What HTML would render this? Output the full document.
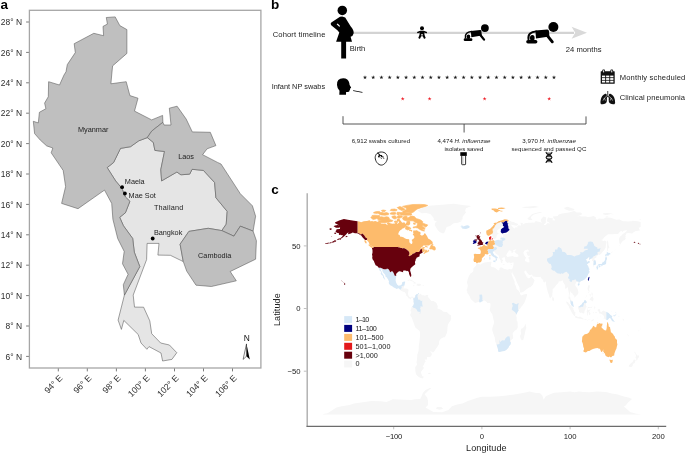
<!DOCTYPE html>
<html><head><meta charset="utf-8"><title>Figure</title>
<style>
html,body{margin:0;padding:0;background:#fff;}
body{width:685px;height:453px;overflow:hidden;font-family:"Liberation Sans",sans-serif;}
svg{display:block;font-family:"Liberation Sans",sans-serif;will-change:transform;opacity:0.999;}
.pl{font-weight:700;font-size:13.5px;fill:#000;}
</style></head>
<body>
<svg width="685" height="453" viewBox="0 0 685 453">
<rect width="685" height="453" fill="#fff"/>
<text class="pl" x="0.4" y="9.2">a</text>
<text class="pl" x="271" y="9.05">b</text>
<text class="pl" x="271.2" y="194.4">c</text>

<g id="pa">
<g stroke="#555" stroke-width="0.55" stroke-linejoin="round">
<path d="M147.3 137.6 153.3 142.4 154.9 150.4 164.5 151.5 160.8 169.6 161.6 180.9 176.9 172.0 180.9 174.8 189.7 174.1 192.1 169.3 203.4 170.4 214.6 182.5 215.9 197.7 227.2 211.4 226.2 224.2 221.8 230.6 208.2 228.3 188.9 231.4 180.1 244.2 183.3 261.6 170.4 255.3 157.9 255.1 159.0 243.4 147.1 243.4 146.6 259.6 133.2 295.1 134.5 307.1 143.6 307.2 149.8 320.9 151.7 333.7 160.7 343.0 169.4 345.0 176.8 352.7 171.9 359.4 162.6 361.0 161.0 353.0 149.0 346.6 146.9 349.3 141.0 343.0 138.2 334.5 123.8 320.4 121.4 329.4 118.1 320.1 124.4 295.1 139.8 266.6 134.3 252.2 132.7 238.5 123.4 225.7 119.7 217.3 125.4 212.8 129.9 201.3 125.4 197.0 121.8 188.2 115.7 181.0 107.2 167.6 113.6 162.5 120.5 148.4 130.5 146.7 138.8 140.8Z" fill="#e5e5e5"/>
<path d="M106.3 17.5 115.2 16.9 119.8 25.6 126.9 29.6 126.9 53.4 112.6 65.9 111.7 75.0 110.9 83.8 126.2 81.7 129.9 95.6 138.0 98.2 134.5 111.1 151.7 119.9 162.6 115.4 162.9 122.3 151.7 131.1 147.3 137.6 138.8 140.8 130.5 146.7 120.5 148.4 113.6 162.5 107.2 167.6 115.7 181.0 121.8 188.2 125.4 197.0 129.9 201.3 125.4 212.8 119.7 217.3 123.4 225.7 132.7 238.5 134.3 252.2 139.8 266.6 124.4 295.1 123.3 284.7 128.1 274.3 122.5 263.8 124.2 251.4 117.7 238.5 112.9 219.3 111.7 203.4 104.5 190.1 78.0 208.7 61.6 203.4 65.6 186.6 63.2 170.5 51.2 152.8 52.8 148.0 46.7 145.9 40.2 140.0 34.6 133.6 33.3 121.3 38.3 122.9 39.4 112.3 45.9 108.7 44.6 103.1 48.3 96.7 48.6 81.7 59.5 85.0 64.0 75.0 66.0 71.8 67.3 64.6 75.3 52.6 74.2 43.7 93.8 33.3 103.6 35.7 103.0 26.4 107.4 24.1Z" fill="#bfbfbf"/>
<path d="M162.9 122.3 164.0 125.0 171.0 125.0 169.3 108.2 177.1 106.2 186.2 119.1 192.3 131.9 210.3 132.3 215.9 145.6 207.1 148.8 202.6 154.7 217.5 162.4 221.0 164.0 240.3 193.7 252.4 205.8 255.6 216.2 253.1 231.1 240.3 226.2 233.9 236.2 221.8 230.6 226.2 224.2 227.2 211.4 215.9 197.7 214.6 182.5 203.4 170.4 192.1 169.3 189.7 174.1 180.9 174.8 176.9 172.0 161.6 180.9 160.8 169.6 164.5 151.5 154.9 150.4 153.3 142.4 147.3 137.6 151.7 131.1Z" fill="#bfbfbf"/>
<path d="M221.8 230.6 233.9 236.2 240.3 226.2 253.1 231.1 256.4 240.7 255.6 259.2 230.2 271.5 236.3 280.8 211.4 286.5 196.0 285.2 186.7 271.1 183.3 261.6 180.1 244.2 188.9 231.4 208.2 228.3Z" fill="#bfbfbf"/>
</g>
<rect x="29.4" y="10.3" width="231.5" height="357.7" fill="none" stroke="#a6a6a6" stroke-width="1.3"/>
<path d="M26.1 22.0H28.9M26.1 52.4H28.9M26.1 82.8H28.9M26.1 113.2H28.9M26.1 143.6H28.9M26.1 174.0H28.9M26.1 204.4H28.9M26.1 234.8H28.9M26.1 265.2H28.9M26.1 295.6H28.9M26.1 326.0H28.9M26.1 356.4H28.9M58.3 368.5V371.4M87.3 368.5V371.4M116.4 368.5V371.4M145.4 368.5V371.4M174.5 368.5V371.4M203.5 368.5V371.4M232.5 368.5V371.4" stroke="#5a5a5a" stroke-width="0.8" fill="none"/>
<g font-size="8.45" fill="#2e2e2e" text-anchor="end"><text x="22" y="25.1">28° N</text><text x="22" y="55.5">26° N</text><text x="22" y="85.9">24° N</text><text x="22" y="116.3">22° N</text><text x="22" y="146.7">20° N</text><text x="22" y="177.1">18° N</text><text x="22" y="207.5">16° N</text><text x="22" y="237.9">14° N</text><text x="22" y="268.3">12° N</text><text x="22" y="298.7">10° N</text><text x="22" y="329.1">8° N</text><text x="22" y="359.5">6° N</text><text font-size="8.8" transform="translate(63.2 378.7) rotate(-45)">94° E</text><text font-size="8.8" transform="translate(92.2 378.7) rotate(-45)">96° E</text><text font-size="8.8" transform="translate(121.3 378.7) rotate(-45)">98° E</text><text font-size="8.8" transform="translate(150.3 378.7) rotate(-45)">100° E</text><text font-size="8.8" transform="translate(179.4 378.7) rotate(-45)">102° E</text><text font-size="8.8" transform="translate(208.4 378.7) rotate(-45)">104° E</text><text font-size="8.8" transform="translate(237.4 378.7) rotate(-45)">106° E</text></g>
<g fill="#000"><circle cx="122.1" cy="187.2" r="1.9"/><circle cx="124.9" cy="193.5" r="1.9"/><circle cx="152.7" cy="238.5" r="1.9"/></g>
<g font-size="7.3" fill="#222">
<text x="78" y="132.2">Myanmar</text>
<text x="178.2" y="158.6">Laos</text>
<text x="124.8" y="184.3">Maela</text>
<text x="128.6" y="198">Mae Sot</text>
<text x="153.9" y="209.7" textLength="29.4">Thailand</text>
<text x="153.9" y="234.7">Bangkok</text>
<text x="198.1" y="257.8">Cambodia</text>
</g>
<text x="246.7" y="340.6" font-size="8.4" fill="#111" text-anchor="middle">N</text>
<path d="M246.5 343.9L249.8 359.6L246.4 356.3Z" fill="#000"/>
<path d="M246.5 343.9L243.1 359.4L246.4 356.3Z" fill="#fff" stroke="#000" stroke-width="0.5" stroke-linejoin="round"/>
</g>

<g id="pb">
<path d="M353 31.65H574V33.95H353Z" fill="#d3d3d3"/>
<path d="M571.6 26.7L587 32.65L571.6 38.8L575.2 32.75Z" fill="#d9d9d9"/>
<!-- pregnant woman -->
<g fill="#000">
<circle cx="342.3" cy="10.4" r="4.75"/>
<path d="M342.2 16.4 L345.2 17.6 L350.6 26.2 Q354.3 30.3 353.6 33.6 Q353 36.3 350.6 36.8 L352 41.7 L336.1 41.7 L339.3 32.5 L337.4 30.2 L331.2 25.3 Q330 23.9 331.3 22.6 L340 16.8 Z"/>
<path d="M341.2 41 H346.1 V58.5 H341.2Z"/>
</g>
<path d="M337.6 23.4 L339.9 25.8 L339.5 26.9 L336.6 24.3Z" fill="#fff"/>
<!-- small baby -->
<g fill="#000">
<circle cx="422" cy="28.2" r="2.0"/>
<rect x="419.6" y="30.9" width="4.8" height="5.3" rx="0.7"/>
<path d="M417.8 32.5 L420 31.6 H424 L426.3 32.5" fill="none" stroke="#000" stroke-width="1.5" stroke-linecap="round" stroke-linejoin="round"/>
<path d="M420.5 35.4 L419.4 37.7 M423.5 35.4 L424.6 37.7" fill="none" stroke="#000" stroke-width="2.0" stroke-linecap="round"/>
</g>
<rect x="421.25" y="34.0" width="1.5" height="1.6" fill="#dcdcdc"/>
<g fill="#000"><g transform="translate(484.9 28.1) scale(0.78) translate(-553.4 -27)">
<circle cx="553.4" cy="27" r="5.0"/>
<path d="M535.4 30.6 L547.3 29.4 Q548.9 29.4 549.0 31.2 L549.4 36.6 L536.0 38.6 Z"/>
<path d="M528.5 39.4 C527.7 33.9 531 32 536.2 31.4" fill="none" stroke="#000" stroke-width="1.95" stroke-linecap="round"/>
<ellipse cx="532.3" cy="38.1" rx="2.35" ry="3.0"/>
<rect x="526.2" y="40.1" width="11.2" height="3.5" rx="1.75"/>
<path d="M547.3 35.6 L552.3 41.8" fill="none" stroke="#000" stroke-width="2.9" stroke-linecap="round"/>
</g><g transform="translate(553.4 27.0) scale(1.0) translate(-553.4 -27)">
<circle cx="553.4" cy="27" r="5.0"/>
<path d="M535.4 30.6 L547.3 29.4 Q548.9 29.4 549.0 31.2 L549.4 36.6 L536.0 38.6 Z"/>
<path d="M528.5 39.4 C527.7 33.9 531 32 536.2 31.4" fill="none" stroke="#000" stroke-width="1.95" stroke-linecap="round"/>
<ellipse cx="532.3" cy="38.1" rx="2.35" ry="3.0"/>
<rect x="526.2" y="40.1" width="11.2" height="3.5" rx="1.75"/>
<path d="M547.3 35.6 L552.3 41.8" fill="none" stroke="#000" stroke-width="2.9" stroke-linecap="round"/>
</g></g>
<!-- infant head with swab -->
<g fill="#000">
<path d="M337 85 Q336.6 78.3 343.2 78.3 Q348.3 78.3 349.3 83 L349.6 85 L351.1 87.4 Q351.2 88 350.3 88.2 L350.1 89.3 Q350.2 90 349.6 90.3 Q349.7 91.9 348 92 L346.1 91.9 L346 94.8 L339.3 94.8 L339.5 90.8 Q337.2 88.6 337 85Z"/>
<path d="M353.2 90.2 L362.5 92 L362.4 92.7 L353.1 91.1Z"/>
</g>
<path d="M365.00 75.25 365.47 76.80 367.09 76.77 365.76 77.70 366.29 79.23 365.00 78.25 363.71 79.23 364.24 77.70 362.91 76.77 364.53 76.80ZM373.22 75.25 373.69 76.80 375.31 76.77 373.98 77.70 374.51 79.23 373.22 78.25 371.92 79.23 372.46 77.70 371.12 76.77 372.75 76.80ZM381.43 75.25 381.90 76.80 383.53 76.77 382.19 77.70 382.73 79.23 381.43 78.25 380.14 79.23 380.67 77.70 379.34 76.77 380.96 76.80ZM389.65 75.25 390.12 76.80 391.74 76.77 390.41 77.70 390.94 79.23 389.65 78.25 388.36 79.23 388.89 77.70 387.56 76.77 389.18 76.80ZM397.87 75.25 398.34 76.80 399.96 76.77 398.63 77.70 399.16 79.23 397.87 78.25 396.57 79.23 397.11 77.70 395.78 76.77 397.40 76.80ZM406.08 75.25 406.56 76.80 408.18 76.77 406.85 77.70 407.38 79.23 406.08 78.25 404.79 79.23 405.32 77.70 403.99 76.77 405.61 76.80ZM414.30 75.25 414.77 76.80 416.39 76.77 415.06 77.70 415.60 79.23 414.30 78.25 413.01 79.23 413.54 77.70 412.21 76.77 413.83 76.80ZM422.52 75.25 422.99 76.80 424.61 76.77 423.28 77.70 423.81 79.23 422.52 78.25 421.23 79.23 421.76 77.70 420.43 76.77 422.05 76.80ZM430.74 75.25 431.21 76.80 432.83 76.77 431.50 77.70 432.03 79.23 430.74 78.25 429.44 79.23 429.98 77.70 428.64 76.77 430.27 76.80ZM438.95 75.25 439.42 76.80 441.05 76.77 439.71 77.70 440.25 79.23 438.95 78.25 437.66 79.23 438.19 77.70 436.86 76.77 438.48 76.80ZM447.17 75.25 447.64 76.80 449.26 76.77 447.93 77.70 448.46 79.23 447.17 78.25 445.88 79.23 446.41 77.70 445.08 76.77 446.70 76.80ZM455.39 75.25 455.86 76.80 457.48 76.77 456.15 77.70 456.68 79.23 455.39 78.25 454.09 79.23 454.63 77.70 453.29 76.77 454.92 76.80ZM463.60 75.25 464.07 76.80 465.70 76.77 464.36 77.70 464.90 79.23 463.60 78.25 462.31 79.23 462.84 77.70 461.51 76.77 463.13 76.80ZM471.82 75.25 472.29 76.80 473.91 76.77 472.58 77.70 473.11 79.23 471.82 78.25 470.53 79.23 471.06 77.70 469.73 76.77 471.35 76.80ZM480.04 75.25 480.51 76.80 482.13 76.77 480.80 77.70 481.33 79.23 480.04 78.25 478.74 79.23 479.28 77.70 477.95 76.77 479.57 76.80ZM488.25 75.25 488.73 76.80 490.35 76.77 489.02 77.70 489.55 79.23 488.25 78.25 486.96 79.23 487.49 77.70 486.16 76.77 487.78 76.80ZM496.47 75.25 496.94 76.80 498.56 76.77 497.23 77.70 497.77 79.23 496.47 78.25 495.18 79.23 495.71 77.70 494.38 76.77 496.00 76.80ZM504.69 75.25 505.16 76.80 506.78 76.77 505.45 77.70 505.98 79.23 504.69 78.25 503.40 79.23 503.93 77.70 502.60 76.77 504.22 76.80ZM512.91 75.25 513.38 76.80 515.00 76.77 513.67 77.70 514.20 79.23 512.91 78.25 511.61 79.23 512.15 77.70 510.81 76.77 512.44 76.80ZM521.12 75.25 521.59 76.80 523.22 76.77 521.88 77.70 522.42 79.23 521.12 78.25 519.83 79.23 520.36 77.70 519.03 76.77 520.65 76.80ZM529.34 75.25 529.81 76.80 531.43 76.77 530.10 77.70 530.63 79.23 529.34 78.25 528.05 79.23 528.58 77.70 527.25 76.77 528.87 76.80ZM537.56 75.25 538.03 76.80 539.65 76.77 538.32 77.70 538.85 79.23 537.56 78.25 536.26 79.23 536.80 77.70 535.46 76.77 537.09 76.80ZM545.77 75.25 546.24 76.80 547.87 76.77 546.53 77.70 547.07 79.23 545.77 78.25 544.48 79.23 545.01 77.70 543.68 76.77 545.30 76.80ZM553.99 75.25 554.46 76.80 556.08 76.77 554.75 77.70 555.28 79.23 553.99 78.25 552.70 79.23 553.23 77.70 551.90 76.77 553.52 76.80Z" fill="#1a1a1a"/>
<path d="M402.70 96.70 403.16 98.17 404.70 98.15 403.44 99.04 403.93 100.50 402.70 99.58 401.47 100.50 401.96 99.04 400.70 98.15 402.24 98.17ZM429.60 96.70 430.06 98.17 431.60 98.15 430.34 99.04 430.83 100.50 429.60 99.58 428.37 100.50 428.86 99.04 427.60 98.15 429.14 98.17ZM484.60 96.70 485.06 98.17 486.60 98.15 485.34 99.04 485.83 100.50 484.60 99.58 483.37 100.50 483.86 99.04 482.60 98.15 484.14 98.17ZM549.20 96.70 549.66 98.17 551.20 98.15 549.94 99.04 550.43 100.50 549.20 99.58 547.97 100.50 548.46 99.04 547.20 98.15 548.74 98.17Z" fill="#ee1c25"/>
<path d="M343 116.2V124H586V116.4M464.1 124V132.5" fill="none" stroke="#444" stroke-width="0.9"/>
<g font-size="7.6" fill="#222">
<text x="272.7" y="36.65" textLength="52.7">Cohort timeline</text>
<text x="271.7" y="89.2" textLength="53.4" lengthAdjust="spacingAndGlyphs">Infant NP swabs</text>
<text x="349.7" y="51.4">Birth</text>
<text x="565.7" y="51.5" textLength="35.9">24 months</text>
<text x="619.7" y="79.7" textLength="65.6">Monthly scheduled</text>
<text x="619.7" y="99.7" textLength="65.3">Clinical pneumonia</text>
</g>
<g font-size="6.15" fill="#222" text-anchor="middle">
<text x="380.9" y="142.8" textLength="58.5">6,912 swabs cultured</text>
<text x="463.9" y="142.9" textLength="52.9">4,474 <tspan font-style="italic">H. influenzae</tspan></text>
<text x="463.9" y="150.6" textLength="38.9">isolates saved</text>
<text x="549.1" y="142.9" textLength="53.6">3,970 <tspan font-style="italic">H. influenzae</tspan></text>
<text x="548.9" y="150.6" textLength="74.9">sequenced and passed QC</text>
</g>
<!-- calendar -->
<g fill="#111">
<rect x="600.7" y="71.2" width="14" height="12.6" rx="0.5"/>
<rect x="602.3" y="69.5" width="2.7" height="3.2" rx="0.9"/><rect x="610.4" y="69.5" width="2.7" height="3.2" rx="0.9"/>
</g>
<g fill="#fff">
<rect x="603.15" y="70.3" width="1.0" height="2.1"/><rect x="611.25" y="70.3" width="1.0" height="2.1"/>
<rect x="602" y="75.6" width="3.2" height="1.7"/><rect x="606.1" y="75.6" width="3.2" height="1.7"/><rect x="610.2" y="75.6" width="3.2" height="1.7"/>
<rect x="602" y="78.1" width="3.2" height="1.8"/><rect x="606.1" y="78.1" width="3.2" height="1.8"/><rect x="610.2" y="78.1" width="3.2" height="1.8"/>
<rect x="602" y="80.7" width="3.2" height="1.8"/><rect x="606.1" y="80.7" width="3.2" height="1.8"/><rect x="610.2" y="80.7" width="3.2" height="1.8"/>
</g>
<!-- lungs -->
<g fill="#111">
<path d="M606.8 95.6 Q607 93.3 605.2 93.8 Q601.6 95.4 600.7 100 Q600 103.5 601.2 104.2 Q603.4 104.8 605.8 103.3 Q607 102.4 606.9 100.2 Z"/>
<path d="M608.8 95.6 Q608.6 93.3 610.4 93.8 Q614 95.4 614.9 100 Q615.6 103.5 614.4 104.2 Q612.2 104.8 609.8 103.3 Q608.6 102.4 608.7 100.2 Z"/>
<path d="M607.4 91 H608.2 V96 L610.6 98.2 L610.1 98.8 L607.8 96.8 L605.5 98.8 L605 98.2 L607.4 96Z"/>
</g>
<path d="M606.5 96.4L604.4 98L603 100.6M604.4 98L605.4 100.6M609.1 96.4L611.2 98L612.6 100.6M611.2 98L610.2 100.6" stroke="#fff" stroke-width="0.55" fill="none"/>
<!-- petri dish -->
<path d="M381.3 152 C385.6 152 387.4 155 387.4 157.6 C387.4 161.2 384.5 165.1 381.3 165.1 C378.1 165.1 375.2 161.2 375.2 157.6 C375.2 155 377 152 381.3 152Z" fill="none" stroke="#111" stroke-width="0.9"/>
<path d="M377.7 153.3 L379.7 154.6 L379.3 155.5 L381.7 155.5 L381.3 156.5 L383.3 157" stroke="#111" stroke-width="1.05" stroke-linecap="round" stroke-linejoin="round" fill="none"/>
<circle cx="378.9" cy="156.5" r="0.95" fill="#111"/>
<circle cx="381.3" cy="158.3" r="0.5" fill="#111"/><circle cx="383.8" cy="158.3" r="0.5" fill="#111"/><circle cx="380.2" cy="157.6" r="0.4" fill="#111"/>
<!-- tube -->
<path d="M460.3 152.2H466.8V155.9H460.3Z" fill="#000"/>
<path d="M461.7 155.9V164.1Q461.7 164.7 462.3 164.7H465Q465.6 164.7 465.6 164.1V155.9" fill="#fff" stroke="#111" stroke-width="0.85"/>
<path d="M463 156.5V163.8" stroke="#777" stroke-width="0.4" fill="none"/>
<!-- dna -->
<g fill="none" stroke="#111" stroke-width="1.15" stroke-linecap="round">
<path d="M546.1 152.4 C546.1 155 551.9 154.8 551.9 157.4 C551.9 160 546.1 159.8 546.1 162.4"/>
<path d="M551.9 152.4 C551.9 155 546.1 154.8 546.1 157.4 C546.1 160 551.9 159.8 551.9 162.4"/>
<path d="M546.8 153.1H551.2M547.4 154.2H550.6M547 156.5H551M547 158.3H551M547.4 160.6H550.6M546.8 161.7H551.2" stroke-width="0.7"/>
</g>
</g>

<g id="pc">
<path d="M417.5 210.5 421.9 208.3 429.0 205.8 442.2 204.8 453.7 203.7 462.5 205.1 471.3 206.1 466.0 208.3 465.1 210.8 466.0 212.6 464.3 214.5 462.5 217.0 462.5 219.5 459.8 220.2 462.5 220.8 458.1 222.7 453.7 223.2 450.1 225.9 446.6 227.1 445.7 229.6 444.0 233.2 442.2 233.3 439.6 232.1 437.8 230.2 436.5 228.1 434.7 225.2 435.2 222.7 436.9 221.4 433.8 220.2 433.8 218.3 432.5 216.4 430.3 213.9 426.3 213.0 421.5 213.3 419.3 211.8ZM400.5 290.3 401.6 291.1 403.0 291.7 404.5 292.0 404.7 292.2 405.2 292.8 406.0 294.1 406.3 294.8 406.2 296.0 407.1 296.2 408.1 297.2 408.4 298.0 408.8 298.5 409.8 298.5 410.6 299.4 411.3 299.1 411.1 298.2 411.8 297.2 412.8 298.0 413.1 299.1 413.2 299.5 413.7 297.7 412.7 296.7 411.7 296.5 410.5 297.5 409.4 297.0 408.7 296.0 408.1 294.8 408.1 292.8 408.3 291.6 408.5 289.7 407.4 288.7 406.0 288.5 404.5 288.6 403.5 288.6 404.1 286.6 404.2 285.3 404.0 285.3 403.3 286.2 401.6 286.2 401.6 286.9 402.1 288.3 401.0 288.4 400.6 289.4ZM413.7 297.7 414.1 298.5 415.2 296.7 415.3 295.5 415.9 294.7 416.5 294.3 417.5 294.2 418.7 292.9 419.2 293.3 419.0 293.7 418.5 294.6 418.7 295.1 419.3 294.7 420.2 293.2 420.4 294.1 421.7 294.8 421.9 295.3 423.7 295.2 425.0 295.7 426.3 295.1 427.3 295.1 428.1 297.2 429.0 298.0 430.3 299.7 431.4 301.0 433.4 301.1 435.6 302.2 436.4 303.1 437.8 306.2 437.4 308.5 439.2 309.1 439.7 309.3 442.2 310.4 442.8 311.6 445.3 312.1 446.6 312.1 447.9 313.1 449.3 314.6 450.8 315.0 451.2 318.5 450.6 320.4 449.3 322.3 447.9 324.8 447.5 327.3 447.3 330.7 446.8 333.2 446.4 333.9 444.9 337.3 443.8 337.3 441.1 338.6 439.6 340.2 439.0 341.7 439.1 343.1 438.9 344.3 437.8 346.1 437.2 347.3 435.9 348.8 434.8 350.7 433.5 352.3 432.3 352.2 430.7 351.1 430.4 351.9 431.4 352.7 431.9 354.0 431.2 356.1 429.9 357.0 427.0 357.1 427.0 359.4 424.6 359.6 425.8 361.8 424.6 362.4 424.0 364.9 422.4 366.1 423.8 367.5 423.8 368.3 422.2 370.3 421.0 371.8 421.0 373.2 421.6 374.1 421.7 374.8 422.4 376.2 424.4 377.0 423.2 377.4 422.5 378.6 421.0 378.0 419.3 377.2 418.4 376.7 416.6 374.9 416.0 373.9 415.5 371.8 415.3 369.3 415.2 367.1 416.5 365.5 417.1 364.3 416.5 362.6 416.8 360.9 417.1 358.6 417.2 357.4 417.3 354.6 418.0 353.0 418.7 349.8 418.8 346.1 419.0 344.2 419.4 342.3 419.8 338.1 420.1 334.8 419.9 331.6 418.8 330.3 417.5 329.2 415.6 327.7 414.7 325.9 413.9 323.5 413.1 321.4 412.2 318.8 411.4 317.1 410.4 316.0 410.2 314.4 411.1 312.8 411.4 311.8 410.5 311.3 410.7 309.8 411.3 308.5 411.3 307.5 411.7 307.2 412.4 306.6 412.4 306.2 413.4 305.2 413.9 303.6 413.5 301.6 413.6 300.1 413.2 299.5ZM427.9 373.3 429.9 372.8 430.9 373.2 429.9 374.0 428.5 373.9ZM476.7 263.6 479.3 264.3 481.0 264.5 481.4 263.8 484.5 262.4 488.1 262.1 490.5 261.8 491.6 262.0 491.2 263.4 490.7 265.9 491.7 266.9 493.5 267.3 495.3 267.9 497.8 270.3 498.7 270.5 499.5 269.7 499.5 268.3 500.9 267.3 502.3 267.7 504.1 269.0 505.9 269.2 507.5 269.8 508.3 269.4 509.2 268.9 510.4 269.3 512.1 269.3 512.7 271.5 512.2 273.4 512.1 273.7 511.2 272.8 510.6 271.0 510.7 272.2 511.5 273.7 511.7 274.4 512.7 277.2 513.2 278.4 514.4 280.9 514.7 282.2 514.7 283.9 515.9 285.9 516.6 289.0 518.2 290.3 519.3 292.0 520.0 292.7 519.9 294.0 521.6 295.5 523.4 294.6 525.1 294.3 527.1 293.7 527.0 295.5 526.0 298.5 525.1 301.0 524.2 302.9 522.5 305.5 521.9 306.0 520.3 308.5 519.4 309.0 518.6 310.6 518.0 311.4 517.3 312.5 516.9 313.6 516.5 314.4 516.1 316.0 516.6 317.0 516.7 318.5 516.7 320.4 517.5 321.7 517.7 324.2 517.7 326.7 517.8 327.3 517.0 329.2 515.4 330.2 514.4 330.9 512.6 333.4 513.0 335.4 513.2 338.3 511.0 340.2 510.7 341.0 510.9 342.2 510.7 344.2 509.2 345.9 508.4 347.7 506.5 349.8 504.5 351.1 502.2 351.2 499.5 352.1 498.1 351.5 498.0 349.8 497.8 348.6 497.2 346.7 496.5 344.3 495.3 341.8 494.7 337.3 493.7 334.7 492.5 331.1 492.3 330.1 492.3 328.5 492.7 326.7 493.7 324.3 494.1 322.3 493.5 319.5 492.7 316.1 492.4 314.5 491.7 313.4 490.4 311.5 489.7 309.4 490.2 308.0 490.4 306.0 490.5 304.7 490.5 303.5 489.4 302.9 488.1 303.0 487.2 303.1 486.7 302.0 484.9 300.5 483.3 300.7 481.7 301.5 480.0 302.5 479.2 302.1 478.4 301.9 476.6 302.5 475.1 303.0 472.4 300.6 470.9 299.2 470.3 297.8 469.8 296.6 468.7 294.8 468.1 293.7 467.2 293.0 467.3 291.6 466.5 290.1 467.3 288.5 467.8 285.8 467.5 284.2 466.9 282.4 467.6 279.7 467.9 278.8 469.1 275.8 470.5 273.5 472.1 272.4 472.9 271.7 473.4 270.4 473.3 269.0 473.7 268.0 475.2 266.4 475.9 265.8ZM525.4 323.5 526.4 327.9 525.6 329.8 524.7 334.2 523.4 339.8 521.8 340.6 520.4 337.9 520.1 336.1 521.1 333.6 520.7 331.1 521.1 328.8 522.7 328.2 524.1 326.8 524.9 325.2ZM474.0 262.1 473.5 260.0 474.2 256.9 473.7 254.6 474.8 253.7 476.8 253.9 478.5 254.0 480.3 254.1 480.8 252.5 480.8 250.9 480.0 249.5 478.0 248.6 477.7 247.9 479.3 247.4 480.1 247.6 480.5 246.2 481.7 246.7 482.0 246.5 483.2 245.6 483.5 244.7 484.1 244.5 484.9 244.1 485.4 243.3 486.0 242.1 488.1 241.5 489.4 241.3 489.7 240.8 489.5 239.7 489.0 239.0 489.0 237.6 489.5 237.0 491.2 236.1 491.2 237.7 491.5 237.8 491.0 238.5 490.6 239.3 490.2 239.8 490.7 240.2 491.6 240.8 492.9 240.3 493.8 240.2 494.4 241.0 496.5 240.2 498.2 239.8 499.1 240.3 499.5 239.7 500.4 239.2 500.4 237.3 500.9 236.5 501.8 236.2 502.4 237.1 503.1 237.1 503.4 235.5 502.6 234.9 502.6 234.3 503.8 233.9 506.6 233.9 508.5 233.4 507.2 232.6 505.7 232.7 503.9 233.1 502.2 233.6 501.3 232.8 500.7 232.1 500.9 230.2 500.9 229.4 502.2 228.3 504.3 227.1 503.2 226.1 501.5 226.3 500.7 227.6 499.8 228.6 498.2 229.6 497.2 230.3 497.1 232.4 498.2 233.1 498.7 233.6 496.9 235.1 496.6 236.1 496.4 237.5 495.8 238.2 494.5 239.0 493.4 239.1 493.1 238.3 492.4 236.2 491.8 234.6 491.3 233.4 491.2 234.3 490.3 234.7 489.0 235.7 488.1 235.8 486.8 234.7 486.3 232.8 486.3 231.1 486.5 230.6 487.4 230.2 488.7 229.4 490.3 228.7 490.7 228.3 492.0 227.1 492.5 226.4 493.4 225.2 494.6 224.2 493.4 223.3 495.1 222.7 496.5 222.7 498.6 221.2 500.4 220.8 502.2 220.2 504.7 219.3 506.6 219.5 509.2 220.3 507.5 221.0 508.4 221.2 510.6 221.0 511.4 221.7 513.7 222.0 515.4 222.9 517.6 223.7 518.2 224.8 516.7 225.7 512.8 225.1 510.7 224.4 512.5 226.8 512.6 227.1 514.1 228.3 515.0 228.4 515.4 227.3 517.6 227.6 517.2 226.3 518.9 225.3 520.7 225.8 521.1 224.5 520.4 222.7 522.5 222.9 522.9 223.5 522.5 224.8 525.1 223.3 528.6 222.7 530.4 222.7 532.6 222.4 533.9 222.8 535.3 222.0 535.3 221.0 538.3 221.7 540.6 222.3 542.3 222.9 541.0 221.4 540.8 220.2 541.2 218.9 542.3 217.7 543.6 216.5 545.8 217.3 546.1 218.9 545.7 220.8 546.0 222.3 545.0 223.5 543.6 224.8 545.0 225.2 546.3 224.5 547.2 223.3 548.9 223.3 550.3 223.7 548.9 222.3 547.6 222.0 547.0 220.8 547.4 218.9 548.0 217.3 550.3 218.0 552.9 218.3 552.5 220.2 555.1 220.5 554.8 219.5 553.3 217.9 553.0 216.4 557.8 215.9 558.6 214.5 562.2 213.6 565.7 213.1 569.2 212.6 573.9 211.1 575.4 211.5 576.7 212.5 580.7 212.5 582.0 213.4 581.6 214.8 578.9 215.8 576.3 216.8 579.4 216.0 582.0 216.4 586.0 216.4 587.7 217.0 590.8 216.8 593.5 216.0 595.9 217.2 595.7 218.5 597.0 219.7 598.8 218.5 601.9 218.8 603.6 218.8 605.4 217.7 606.0 217.2 608.0 217.4 610.7 217.8 614.2 218.9 616.4 219.7 619.5 219.5 623.0 221.2 625.2 221.3 628.3 221.4 630.3 221.3 632.1 221.2 632.3 220.7 634.5 221.0 637.1 221.2 638.9 221.5 640.7 222.2 640.7 227.1 639.3 227.6 638.5 227.4 640.0 230.4 635.8 231.1 633.6 232.2 632.1 233.4 628.3 233.1 626.1 233.4 625.9 235.2 624.8 236.1 625.8 236.1 625.2 238.1 625.9 238.2 624.9 239.9 623.0 240.8 621.9 242.1 620.1 244.7 619.5 243.3 619.1 240.8 619.1 238.3 620.1 236.5 621.3 235.8 622.8 233.9 624.7 232.8 626.3 231.4 627.1 230.2 625.7 230.2 623.0 231.1 623.2 232.6 621.7 231.1 620.0 231.4 618.6 233.3 618.2 233.9 614.9 233.9 612.4 234.2 609.8 234.2 608.0 234.2 605.8 236.1 603.8 237.7 602.7 239.6 601.1 240.0 603.0 240.8 603.2 241.3 604.9 240.6 606.5 241.8 606.3 243.1 605.9 244.6 605.8 245.9 605.6 247.7 604.1 250.2 601.9 252.7 601.0 254.0 599.2 255.0 598.3 254.5 597.2 255.5 596.3 256.5 596.4 257.4 594.4 258.6 594.4 259.4 595.1 260.1 596.0 262.1 596.1 263.4 595.8 264.5 593.5 265.5 593.4 264.0 593.6 262.4 593.6 261.5 592.0 260.8 592.3 259.0 591.5 258.5 590.4 258.9 588.9 259.9 589.1 258.4 589.7 257.6 588.6 257.3 587.4 258.5 586.0 259.4 585.7 259.6 586.8 260.8 587.0 261.1 586.9 261.9 588.0 261.4 588.4 261.1 589.9 261.6 589.9 262.3 588.0 263.4 587.0 264.6 587.1 265.0 588.0 265.5 588.5 267.2 589.3 268.8 589.4 269.8 588.6 270.2 589.5 271.0 589.2 273.0 588.5 273.5 587.4 275.9 586.7 277.2 586.1 277.8 584.8 279.3 583.2 280.2 582.6 280.6 582.0 280.8 580.4 281.4 579.4 281.9 579.3 283.1 578.7 282.9 578.7 281.7 578.1 281.6 577.2 281.6 576.1 282.6 575.1 284.7 575.1 285.1 575.8 286.3 576.8 287.8 577.3 288.3 578.0 290.3 578.2 291.2 578.4 292.3 578.2 293.6 577.2 295.1 576.4 295.5 575.9 296.2 574.8 297.6 574.3 297.7 574.3 296.2 574.6 296.0 574.1 295.5 573.2 295.2 572.7 294.3 572.7 293.8 572.1 293.2 571.0 292.6 570.9 291.7 570.5 291.6 570.1 291.8 570.1 292.7 569.4 295.3 569.5 297.0 570.0 296.8 570.4 298.0 570.6 299.5 571.7 300.4 572.0 300.7 572.1 300.7 573.1 302.5 573.1 303.7 573.5 305.4 573.9 306.7 573.1 306.7 572.0 305.7 571.2 304.9 570.7 303.5 570.5 301.7 570.2 300.5 569.8 299.9 569.2 298.7 568.6 298.7 568.6 298.2 568.5 297.2 568.9 296.0 568.8 294.7 569.0 293.5 568.4 291.0 568.2 289.5 568.0 287.8 567.3 287.3 566.8 287.8 566.0 288.7 565.3 288.6 565.0 288.5 565.2 286.6 565.2 285.3 563.8 283.3 563.3 282.6 563.0 281.7 562.9 280.6 562.0 280.6 561.5 281.1 560.5 281.3 559.7 281.3 558.6 281.6 558.5 282.6 558.4 283.1 557.6 283.7 556.8 284.6 555.4 286.3 554.5 287.6 553.5 288.5 552.6 289.3 552.7 292.1 552.3 293.6 552.3 295.6 551.6 296.8 550.9 297.5 550.3 298.4 549.7 297.8 549.1 296.0 548.8 294.4 547.9 292.3 547.0 289.1 546.6 287.2 546.1 284.7 546.0 282.2 545.9 280.6 545.5 281.9 544.5 282.6 544.0 282.3 542.8 280.7 543.8 279.8 542.7 279.7 542.2 278.9 541.4 278.6 540.9 277.4 540.6 276.7 539.0 276.9 537.9 276.9 536.8 277.0 536.2 276.9 535.3 276.8 532.9 276.4 532.2 275.0 531.6 274.5 530.1 275.3 529.1 275.0 528.2 274.0 526.7 272.3 526.2 270.9 525.1 270.4 524.8 271.0 524.2 271.7 524.6 272.8 524.9 273.8 526.0 275.0 526.2 275.4 526.5 276.5 526.7 277.4 527.1 275.7 527.4 277.2 527.4 278.1 528.3 278.2 529.9 277.9 530.7 276.8 531.4 275.9 531.6 275.5 531.6 277.0 533.6 278.9 534.6 280.3 533.6 282.9 532.9 284.7 531.6 285.9 530.4 287.2 529.5 287.2 527.9 288.2 525.2 290.3 523.4 291.7 521.6 292.5 520.3 292.6 520.0 291.8 519.7 290.0 519.5 288.0 519.4 287.3 518.1 284.7 516.5 281.6 515.4 278.3 514.0 275.7 512.8 273.4 512.8 271.5 512.1 269.3 512.5 268.3 512.8 267.4 513.2 266.0 513.5 265.3 513.4 264.0 513.8 262.6 512.4 262.4 510.8 263.3 509.0 262.3 507.6 262.9 506.9 262.4 506.1 262.1 505.1 260.5 505.4 259.3 504.9 259.0 505.2 258.2 504.8 257.5 504.7 257.3 503.4 257.3 503.1 258.4 502.8 258.5 502.1 257.6 501.8 258.4 502.2 259.3 503.1 260.6 503.1 261.3 502.8 261.0 502.2 261.0 502.4 261.8 502.4 262.8 501.7 262.9 501.0 262.4 500.7 261.3 501.0 260.6 500.5 260.5 500.2 259.8 499.7 259.0 499.5 258.5 499.0 257.9 499.1 256.8 499.0 256.0 498.7 255.7 497.9 255.1 496.4 254.0 495.3 253.2 495.0 252.1 494.6 251.7 494.2 252.4 494.1 251.3 492.7 251.6 492.9 252.2 493.0 253.2 493.8 253.9 494.4 255.2 496.2 256.0 496.8 257.0 497.8 257.6 498.2 258.2 498.1 258.6 497.1 257.8 496.5 258.8 497.1 259.5 496.5 260.4 496.1 261.0 495.7 260.8 495.8 259.6 495.7 258.3 495.0 257.6 494.5 257.3 493.9 256.9 493.0 256.6 492.7 256.2 492.3 255.7 491.7 255.4 491.2 254.7 491.0 253.9 490.5 253.2 489.7 252.9 489.0 253.5 488.5 253.6 488.3 253.7 487.8 254.3 487.1 254.5 486.6 254.2 486.1 254.2 485.2 254.1 484.6 255.0 484.7 255.4 484.8 255.5 483.8 256.6 483.0 257.0 482.7 257.5 481.9 258.4 481.6 259.1 482.1 259.9 481.5 260.4 481.3 261.4 480.0 262.5 478.0 262.5 477.2 263.2 477.0 263.4 476.3 262.8 475.7 261.9 474.9 262.1ZM527.3 218.7 529.1 219.9 532.4 220.0 530.9 217.7 531.3 216.4 533.9 214.5 538.3 213.3 542.6 212.3 540.1 212.0 535.7 212.9 532.2 214.1 530.4 215.8 529.1 217.0ZM565.7 209.4 569.2 210.8 573.6 210.4 574.5 209.1 571.9 208.3 567.5 206.8 563.9 208.0ZM639.3 219.5 640.7 219.8 640.7 218.9 639.8 218.9ZM607.8 240.3 608.3 242.7 608.5 245.2 609.5 247.5 607.8 249.0 608.4 250.5 607.1 250.9 607.1 249.0 607.1 247.1 606.9 244.0 607.0 241.7ZM552.2 298.2 552.5 296.2 553.5 297.7 554.1 299.1 554.0 300.4 553.0 301.1 552.3 300.0ZM578.6 306.0 579.2 306.5 580.2 305.5 581.6 304.5 582.4 303.0 583.0 302.4 583.6 302.2 584.2 301.0 584.9 299.7 585.7 300.5 586.1 301.2 587.0 302.0 585.9 303.2 585.6 304.1 586.0 305.7 586.9 307.2 585.8 307.5 585.5 309.4 584.9 310.1 584.5 311.3 584.4 312.3 584.2 313.3 583.0 313.6 581.6 312.5 580.5 312.9 579.1 312.1 578.9 310.1 578.2 308.6 578.0 307.5 577.9 306.9ZM566.0 301.5 567.9 302.0 569.0 303.7 570.4 305.0 571.4 306.2 572.7 307.5 573.5 308.5 573.1 309.5 574.0 309.8 574.2 311.4 575.4 312.3 575.3 313.5 575.2 315.8 574.2 315.9 573.9 315.4 572.1 313.3 570.4 309.7 569.3 308.1 569.0 306.4 567.6 304.7 566.7 303.4ZM574.7 317.0 575.5 315.9 577.4 316.4 577.7 316.9 579.3 317.1 579.7 316.5 581.2 317.1 581.4 317.5 582.8 318.1 582.9 319.4 581.6 318.9 578.9 318.4 577.2 318.3 575.7 317.8ZM587.6 307.5 588.5 306.9 590.4 307.4 592.1 306.4 592.3 306.7 591.5 308.0 590.7 308.1 588.2 307.9 587.7 309.6 588.6 310.3 589.9 309.5 590.7 309.6 589.5 310.9 589.1 311.0 589.9 312.6 590.4 313.5 590.2 314.3 589.9 315.3 589.1 314.4 588.6 312.3 588.5 311.9 588.0 312.3 588.1 315.4 587.3 315.4 587.3 312.9 586.7 312.0 587.1 310.1 587.6 308.8ZM597.4 310.1 598.8 309.0 600.1 309.5 600.3 311.5 601.0 312.6 602.3 311.3 603.4 310.4 605.2 311.4 606.3 311.8 606.3 319.9 604.5 318.6 603.4 319.0 604.3 317.5 603.6 315.4 601.9 314.3 600.5 313.5 599.2 313.5 599.0 312.0 598.3 311.3ZM323.1 414.1 327.5 413.3 331.1 411.0 336.4 407.6 341.7 406.2 349.6 405.0 354.0 403.5 362.8 402.2 371.6 401.1 380.5 401.2 386.6 402.0 392.8 399.2 398.1 399.5 404.3 399.7 411.3 400.0 414.9 399.3 420.2 399.0 421.9 395.6 422.8 393.1 425.5 389.9 429.9 388.1 431.6 387.8 429.0 389.9 427.2 391.8 424.6 394.3 427.2 397.5 428.1 401.2 428.1 405.0 425.5 407.5 428.1 409.0 433.4 411.9 442.2 412.2 448.4 410.0 451.9 406.2 457.2 404.4 462.5 403.6 467.8 401.0 473.1 399.3 477.5 397.7 481.9 396.8 490.7 396.7 499.5 396.2 506.6 395.5 512.8 394.7 517.2 394.1 524.2 392.7 529.5 391.4 534.8 392.7 540.1 393.2 542.3 395.6 543.6 399.7 545.8 396.2 548.9 394.7 554.2 392.7 561.3 392.2 570.1 391.6 574.5 392.2 578.9 391.6 583.3 391.9 589.5 392.2 596.6 391.6 601.9 391.8 607.1 392.3 611.6 393.5 616.8 394.3 623.9 396.6 629.2 397.7 632.0 399.1 628.3 402.2 625.7 405.4 623.9 406.6 626.5 408.7 630.1 411.9 636.2 413.8 640.7 414.3 640.7 414.4 614.2 414.5 570.1 414.4 526.0 414.5 481.9 414.4 437.8 414.5 393.7 414.4 349.6 414.5 323.1 414.5ZM436.9 406.9 441.3 407.0 443.1 408.7 439.6 409.7 436.0 408.7ZM502.6 264.0 503.9 264.1 505.1 264.4 503.8 264.7 502.7 264.3ZM510.4 264.6 511.0 264.3 512.4 263.8 511.9 264.6 511.0 265.1ZM407.0 281.1 408.7 279.7 410.0 279.5 411.8 280.1 413.5 281.3 415.1 282.2 416.5 283.2 415.8 283.6 413.4 283.6 413.9 282.8 412.7 281.6 410.9 280.9 409.6 280.3 408.3 280.7ZM416.3 285.2 417.2 283.7 418.7 283.7 420.2 283.8 421.6 285.2 420.2 285.6 418.8 286.3 418.0 285.7ZM412.8 285.4 414.0 285.3 414.7 285.9 413.5 286.2ZM422.6 285.3 424.0 285.4 423.9 285.9 422.6 285.9ZM427.3 295.0 428.2 295.0 428.1 295.8 427.3 295.8ZM412.3 275.0 413.5 274.8 414.0 275.5 412.9 275.4ZM412.8 277.2 413.4 277.0 413.5 278.6 412.9 278.1ZM602.7 214.0 605.4 214.9 608.0 214.7 610.7 214.1 614.2 214.4 611.6 213.4 607.1 213.1 603.6 213.3ZM605.4 216.5 608.0 216.8 608.5 216.3 606.3 215.9ZM521.6 207.5 526.0 208.0 530.4 208.3 534.8 207.8 539.2 207.0 534.8 206.1 528.6 206.6 523.4 207.0ZM610.2 253.4 611.6 252.1 613.1 251.5 612.0 252.5ZM614.2 250.6 616.0 249.2 615.1 250.2ZM618.9 245.6 619.7 244.8 619.3 245.9ZM583.3 318.8 583.9 318.6 583.8 319.5 583.0 319.2ZM584.2 319.0 584.8 318.9 584.7 319.7 584.1 319.5ZM584.9 319.0 586.4 318.9 586.9 319.4 585.1 319.8ZM587.7 319.0 589.1 319.2 590.4 318.9 590.2 319.5 588.2 319.5ZM586.9 320.3 587.9 320.4 588.4 321.3 587.3 320.8ZM590.8 321.4 592.1 319.8 594.1 319.0 593.5 320.2 591.7 321.3ZM594.3 307.4 594.8 305.9 595.4 307.2 594.8 308.5 595.1 309.5 594.5 308.9ZM594.7 312.5 596.1 312.0 597.3 312.8 596.1 312.9ZM593.0 312.5 594.1 312.5 593.9 313.3 593.0 313.1ZM600.3 315.9 600.8 315.4 600.6 317.0ZM597.4 318.0 598.1 317.5 598.0 318.5ZM588.3 285.3 589.7 285.3 589.7 287.2 589.2 288.5 589.2 289.7 589.5 291.0 591.3 292.2 591.4 292.7 590.4 291.6 588.6 291.3 588.3 290.6 587.7 289.7 587.6 288.1 588.0 286.6ZM589.5 299.7 590.8 297.6 592.6 296.2 593.6 299.1 593.2 300.6 592.5 301.5 591.3 300.4ZM585.3 298.0 587.3 294.2 587.1 295.6 585.5 298.0ZM591.5 292.8 592.4 292.8 592.7 294.7 592.1 296.0 591.6 294.2ZM589.5 293.7 590.5 294.1 590.7 296.8 589.9 296.1ZM588.1 291.7 589.1 292.0 588.8 293.2ZM634.2 351.6 635.6 352.7 636.1 354.6 636.7 354.2 637.1 355.6 638.9 355.6 639.3 355.7 638.8 357.5 638.0 357.9 637.9 358.0 637.4 359.7 636.5 360.6 636.1 360.2 636.3 359.0 636.2 358.6 635.2 357.7 635.9 357.0 635.9 356.1 636.0 355.4 635.5 354.1 634.5 352.6ZM634.2 359.2 634.5 359.7 634.8 360.1 635.6 359.9 635.6 360.6 635.1 361.6 634.6 363.4 634.3 363.1 633.0 364.1 632.5 366.0 631.4 366.9 630.3 366.9 628.8 366.4 628.8 365.8 629.9 364.3 630.6 363.6 631.8 362.6 632.7 362.0 633.3 360.8 633.7 359.7ZM626.5 333.7 627.9 334.8 629.2 336.4 628.3 336.1ZM638.3 330.4 639.3 330.6 639.3 331.3 638.3 331.2ZM639.6 329.0 640.7 328.8 640.2 329.6ZM622.6 318.5 623.9 319.8 623.6 320.8 622.8 320.2ZM623.5 318.9 624.2 320.4 623.9 319.3ZM628.8 327.3 629.4 328.0 629.0 328.0ZM629.5 328.7 629.9 329.2 629.5 329.3Z" fill="#f6f6f6"/>
<path d="M507.5 256.9 509.9 256.6 512.9 255.9 513.9 256.8 516.9 257.1 518.6 256.3 518.1 254.6 516.9 253.9 515.2 252.5 514.2 251.7 515.4 250.4 516.6 249.4 515.0 249.5 513.0 250.4 512.8 251.2 514.0 251.7 511.9 252.9 511.4 252.6 511.5 251.0 510.1 250.4 509.0 250.2 508.1 251.9 507.2 253.1 506.5 254.4 506.2 255.2 506.6 256.0ZM525.6 261.5 526.3 261.6 527.8 262.5 529.5 262.3 529.5 261.6 529.3 259.4 528.6 258.4 528.5 256.9 530.0 256.5 529.5 255.6 528.1 256.1 527.1 254.4 527.0 253.8 526.3 252.6 527.1 251.6 528.8 251.7 528.6 250.0 527.7 249.5 525.1 250.2 524.2 250.9 523.4 252.4 523.6 253.7 523.8 254.6 524.5 255.8 525.1 256.8 526.4 257.9 525.9 257.9 525.4 259.1 525.0 259.9 525.0 260.4Z" fill="#fff"/>
<path d="M378.6 267.7 380.6 267.8 383.9 269.2 386.5 269.2 386.5 268.7 388.0 268.7 389.4 270.2 389.8 271.5 390.9 272.2 391.7 271.1 392.9 271.7 393.3 272.5 394.1 274.0 394.5 275.4 396.2 276.0 395.6 280.6 396.2 282.7 397.1 284.4 398.6 285.8 400.8 285.2 401.9 284.3 402.1 283.6 402.2 282.2 404.3 281.4 405.3 281.7 404.7 284.1 404.5 285.7 404.0 285.3 403.3 286.2 401.6 286.2 401.6 286.9 402.1 288.3 401.0 288.4 400.6 289.4 400.5 290.3 399.0 288.5 398.1 288.2 396.8 288.9 395.0 288.1 393.8 287.4 391.9 286.1 390.6 285.6 389.3 284.3 388.7 282.9 389.0 281.6 388.1 279.4 386.6 277.2 385.4 276.4 385.4 275.0 384.1 273.5 382.9 272.2 382.1 269.7 380.6 268.7 380.7 269.8 381.8 272.2 382.4 273.7 383.6 275.3 384.4 277.8 384.6 278.2 385.3 279.4 384.9 279.8 384.4 279.1 383.1 277.7 382.9 275.9 381.8 274.9 380.5 273.7 381.2 273.0 380.9 271.5 379.9 270.9 379.3 269.7 378.8 268.4ZM413.7 297.7 414.1 298.5 415.2 296.7 415.3 295.5 415.9 294.7 416.5 294.3 417.5 294.2 418.7 292.9 419.2 293.3 419.0 293.7 418.0 294.6 417.6 295.3 417.5 297.0 418.0 298.0 418.0 299.2 418.5 299.7 420.1 299.7 420.7 300.9 422.4 300.7 422.1 301.9 422.1 303.2 422.5 304.2 422.1 305.0 422.6 305.6 422.9 307.0 422.7 306.4 420.3 306.4 420.3 307.1 420.9 307.2 420.7 307.6 420.2 307.7 420.2 308.8 420.7 309.9 420.2 313.8 419.5 313.3 420.2 311.9 417.6 311.5 416.3 309.1 415.5 308.6 414.6 308.0 413.6 308.0 413.4 307.5 412.4 306.7 412.4 306.2 413.4 305.2 413.9 303.6 413.5 301.6 413.6 300.1 413.2 299.5ZM479.2 302.1 480.0 302.5 481.7 301.5 483.0 300.9 482.3 299.9 482.4 298.2 482.3 296.0 481.9 294.6 479.4 294.7 479.5 296.6 479.7 298.2 479.1 300.0 479.4 301.5ZM518.6 310.6 518.0 311.4 517.3 312.5 516.9 313.6 516.5 314.4 515.1 312.3 511.8 309.8 511.9 308.2 512.3 307.1 512.8 306.1 511.9 303.2 513.6 302.7 513.7 302.9 515.5 304.0 516.7 304.2 517.9 303.2 518.9 303.6 518.1 305.0 518.1 308.5 518.1 309.6ZM496.5 344.3 497.2 346.7 497.8 348.6 498.0 349.8 498.1 351.5 499.5 352.1 502.2 351.2 504.5 351.1 506.5 349.8 508.4 347.7 509.2 345.9 510.7 344.2 510.9 342.2 510.1 342.1 510.0 341.0 510.1 339.2 509.5 336.6 507.8 336.3 506.6 337.2 505.7 338.1 504.4 340.6 502.2 340.2 500.2 342.1 499.5 339.6 499.5 344.1 497.2 344.5ZM460.3 226.4 462.1 225.2 462.9 226.4 464.0 226.2 466.0 225.6 467.6 225.2 469.0 225.8 469.9 226.9 468.8 227.9 466.0 229.1 463.8 228.8 461.9 228.6 462.5 227.8 460.7 227.2 462.5 226.7ZM494.4 241.0 496.5 240.2 498.2 239.8 499.1 240.3 502.0 240.3 502.6 241.0 503.0 242.5 502.4 243.1 503.1 244.8 501.8 247.0 499.5 246.9 498.5 246.5 496.9 245.5 495.1 244.6 494.9 243.2 494.3 242.3 494.6 241.8ZM500.4 239.2 500.5 238.2 501.3 237.8 503.9 237.8 505.4 238.7 505.5 239.2 504.7 239.7 504.4 240.5 502.6 241.0 502.0 240.3 502.0 239.6ZM494.1 251.3 492.7 251.6 492.9 252.2 493.0 253.2 493.8 253.9 494.4 255.2 496.2 256.0 496.8 257.0 497.8 257.6 498.2 258.2 498.1 258.6 497.1 257.8 496.5 258.8 497.1 259.5 496.5 260.4 496.1 261.0 495.7 260.8 495.8 259.6 495.7 258.3 495.0 257.6 494.5 257.3 493.9 256.9 493.0 256.6 492.7 256.2 492.3 255.7 491.7 255.4 491.2 254.7 491.0 253.9 490.5 253.2 489.7 252.9 489.0 253.5 488.5 253.6 488.7 253.2 487.8 252.7 488.1 251.9 487.9 250.9 489.3 250.4 490.1 250.2 491.2 249.7 492.7 249.6 494.0 250.2ZM492.8 260.9 493.7 260.6 495.7 260.5 495.2 262.5 494.5 262.1 493.1 261.4ZM489.1 257.3 490.0 256.9 490.5 257.8 490.4 259.4 489.7 259.8 489.3 259.4ZM487.3 250.4 488.0 249.2 488.6 248.9 490.4 249.0 491.2 249.1 493.4 249.0 493.4 248.0 494.1 247.4 495.1 247.1 496.8 247.6 497.0 248.4 496.1 249.7 494.8 250.4 494.0 250.2 492.7 249.6 491.2 249.7 490.1 250.2 489.3 250.4 487.9 250.9ZM591.5 258.5 590.4 258.9 588.9 259.9 589.1 258.4 589.7 257.6 588.6 257.3 587.4 258.5 586.0 259.4 585.7 259.6 586.8 260.8 587.0 261.1 586.9 261.9 588.0 261.4 588.4 261.1 589.9 261.6 589.9 262.3 588.0 263.4 587.0 264.6 587.1 265.0 588.0 265.5 588.5 267.2 589.3 268.8 589.4 269.8 588.6 270.2 589.5 271.0 589.2 273.0 588.5 273.5 587.4 275.9 586.7 277.2 586.1 277.8 584.8 279.3 583.2 280.2 582.6 280.6 582.0 280.8 580.4 281.4 579.4 281.9 579.3 283.1 578.7 282.9 578.7 281.7 578.1 281.6 577.2 281.6 576.3 281.1 576.0 279.8 574.9 279.3 574.3 279.9 572.7 280.3 572.0 280.4 571.7 281.9 571.2 281.9 570.2 281.6 569.4 280.8 569.7 279.7 569.0 278.4 568.0 278.6 568.2 276.9 569.0 276.0 569.0 273.9 567.8 273.2 566.7 271.8 565.7 271.9 564.2 272.7 563.0 273.7 562.7 273.7 561.1 273.2 560.3 274.3 559.6 273.5 557.8 273.4 556.0 272.3 554.2 270.5 553.3 270.7 552.6 270.2 551.6 269.5 551.3 269.0 551.0 267.7 552.0 267.5 551.6 266.5 551.3 265.5 550.7 264.0 548.9 263.5 548.0 262.1 547.7 261.9 547.0 260.3 547.0 259.0 547.2 258.4 548.9 257.9 551.0 257.0 552.6 255.7 552.7 254.6 553.2 254.4 552.8 252.5 552.5 252.1 554.7 251.9 555.1 249.4 557.3 249.5 557.6 247.9 558.6 247.0 559.3 246.9 559.5 247.6 561.3 248.6 562.2 250.9 562.1 251.7 564.4 252.1 566.0 253.1 566.9 255.0 570.1 255.1 571.7 255.2 574.5 256.4 576.3 255.4 578.9 255.0 580.6 253.7 580.1 252.9 580.7 252.0 582.1 252.4 584.0 251.5 584.7 250.5 586.4 250.0 587.6 250.0 587.7 248.7 585.8 248.7 584.0 248.7 583.8 248.2 584.8 246.1 585.8 246.5 587.1 245.3 587.7 243.8 588.4 242.7 587.7 242.3 588.6 241.7 590.9 241.4 592.7 242.1 593.8 244.2 594.4 246.1 596.6 247.2 597.2 247.2 597.3 248.7 598.8 248.7 600.7 248.0 600.3 249.1 599.4 252.1 598.1 251.7 597.4 252.4 597.7 254.1 597.1 255.4 596.5 254.6 594.9 255.9 593.8 256.1 593.0 257.3ZM577.8 284.4 578.0 283.6 578.9 283.3 579.8 283.8 579.4 285.1 578.5 285.7 577.8 285.3ZM593.6 261.1 595.1 260.1 596.0 262.1 596.1 263.4 595.8 264.5 593.5 265.5 593.4 264.0 593.6 262.4 593.6 261.5ZM593.2 266.6 593.8 266.5 593.6 266.9ZM570.2 300.5 570.5 301.7 570.7 303.5 571.2 304.9 572.0 305.7 573.1 306.7 573.9 306.7 573.5 305.4 573.1 303.7 573.1 302.5 572.1 300.7 571.7 301.2 571.1 301.4 570.9 300.6ZM578.6 306.0 579.2 306.5 580.2 305.5 581.6 304.5 582.4 303.0 583.0 302.4 583.6 302.2 584.2 301.0 584.9 299.7 585.7 300.5 586.1 301.2 587.0 302.0 585.9 303.2 585.5 303.2 584.0 303.1 583.8 304.7 583.2 306.0 583.2 306.7 581.6 306.7 580.9 306.7 580.5 307.2 579.4 307.4ZM605.4 256.5 605.2 255.1 605.6 254.2 606.6 254.2 606.9 251.6 608.0 252.7 610.1 253.0 610.5 254.2 608.9 254.7 608.2 255.9 606.7 255.2 606.3 256.1ZM606.5 256.6 607.1 259.0 606.3 260.5 606.2 262.3 606.1 263.8 605.3 264.8 605.2 263.9 604.3 265.1 603.8 265.1 602.7 265.1 602.6 265.5 601.7 266.6 601.1 265.1 600.1 265.1 598.7 265.5 597.4 266.0 597.4 265.4 598.8 264.1 599.2 264.0 600.3 264.0 601.4 263.9 601.9 263.8 602.5 262.5 603.0 261.5 602.9 262.4 604.5 260.9 605.1 259.8 605.1 258.5 605.4 257.6 605.6 256.9ZM597.4 266.0 598.1 266.4 598.3 267.4 597.8 269.2 597.2 269.7 596.7 269.2 596.7 267.9 596.3 267.5 596.2 266.8 596.8 266.4ZM598.8 265.9 599.2 265.5 600.6 265.6 600.7 266.1 600.3 266.8 599.2 267.5 598.7 266.8ZM606.3 311.8 608.6 312.9 610.5 315.0 612.0 316.0 612.3 316.9 611.6 316.9 612.4 318.5 613.3 319.8 614.2 321.0 615.0 321.4 614.2 321.8 612.4 321.2 611.7 320.4 610.7 318.6 609.3 318.0 608.5 318.9 608.0 319.8 607.1 320.0 606.3 319.9ZM612.7 315.6 614.2 315.4 615.5 314.8 616.1 313.8 616.2 314.8 615.5 315.5 614.2 316.4ZM614.9 311.8 616.0 312.6 616.8 314.4 616.4 313.5ZM618.3 315.4 619.4 317.0 618.9 316.8ZM611.2 311.0 611.9 311.0 611.7 311.3Z" fill="#d6e8f7"/>
<path d="M357.5 221.3 359.3 221.4 361.1 222.2 362.4 221.8 363.7 221.3 366.4 220.9 368.1 220.7 369.0 220.2 369.9 220.5 370.8 221.4 372.1 220.7 373.0 221.5 375.2 221.0 378.3 222.0 380.5 222.3 381.4 223.0 380.5 223.5 383.1 223.7 385.3 223.4 386.6 224.5 387.3 225.3 387.5 224.3 386.8 223.3 388.4 222.2 390.2 223.3 392.4 223.7 395.0 223.5 395.5 222.8 396.1 222.7 397.2 223.0 397.4 224.3 397.9 223.4 399.2 222.5 398.5 221.3 397.1 220.9 396.8 219.5 397.9 218.4 399.3 218.7 400.1 220.0 401.0 221.2 402.2 222.8 404.3 222.3 405.6 224.0 406.5 222.4 406.5 221.3 409.4 221.0 410.2 221.8 410.1 223.3 410.3 224.0 408.7 225.6 407.4 225.6 405.9 225.2 406.1 226.1 405.2 226.8 404.3 228.1 402.5 228.6 401.9 229.2 400.3 230.2 399.2 231.6 398.4 233.3 398.3 234.6 399.6 234.9 400.4 236.8 401.8 236.8 403.8 237.6 404.7 238.3 406.5 239.0 409.1 239.3 409.4 240.8 409.3 242.2 410.5 243.3 410.8 244.2 412.0 243.8 412.4 242.7 412.2 241.1 411.6 240.0 413.4 238.8 414.3 238.0 414.3 236.5 413.5 235.2 412.7 234.7 413.5 233.6 413.1 232.3 413.3 230.4 415.3 230.4 416.9 230.3 418.6 231.4 420.3 232.1 420.6 233.6 420.2 234.8 421.5 235.5 422.4 235.5 423.7 234.8 424.4 233.4 424.9 232.9 426.3 234.9 427.4 236.7 428.1 238.5 429.9 239.5 430.7 240.1 431.4 240.8 432.5 241.8 432.8 243.2 431.7 244.0 429.9 244.8 429.0 245.6 427.2 245.6 425.5 245.5 423.3 245.6 422.5 246.7 421.2 247.5 420.2 248.9 419.1 249.9 419.9 249.4 421.5 247.9 423.2 247.0 425.2 247.4 425.2 248.0 423.4 248.4 424.6 249.2 424.7 250.5 425.6 250.9 427.2 251.1 427.7 251.4 428.6 249.6 429.2 250.7 428.1 251.9 425.8 252.7 424.1 254.0 423.5 253.6 423.7 252.7 425.0 251.9 424.7 251.2 423.7 251.9 422.8 252.0 422.8 252.4 422.1 251.2 422.1 249.5 421.7 249.2 420.9 249.0 420.2 250.1 419.9 251.1 418.8 252.1 416.0 252.1 414.5 253.2 412.2 254.1 412.2 254.7 409.1 256.2 408.6 255.6 409.2 254.6 409.5 253.9 409.1 251.7 408.2 251.1 408.3 250.7 407.3 250.2 407.0 249.7 403.9 248.0 402.9 248.4 401.8 248.1 400.8 248.0 399.9 247.6 398.5 247.5 398.0 246.6 398.0 247.1 373.6 247.1 373.2 246.7 371.8 245.9 369.9 244.8 369.2 243.6 368.6 242.1 367.1 240.5 367.1 239.6 367.2 238.5 365.6 237.5 364.2 235.3 362.4 233.6 360.6 234.7 360.5 234.3 359.1 233.2 357.5 232.9ZM491.3 233.4 491.2 234.3 490.3 234.7 489.0 235.7 488.1 235.8 486.8 234.7 486.3 232.8 486.3 231.1 486.5 230.6 487.4 230.2 488.7 229.4 490.3 228.7 490.7 228.3 492.0 227.1 492.5 226.4 493.4 225.2 494.6 224.2 493.4 223.3 495.1 222.7 496.5 222.7 498.6 221.2 500.4 220.8 502.2 220.2 504.7 219.3 506.6 219.5 509.2 220.3 507.5 221.0 508.4 221.2 507.4 221.9 507.5 222.0 506.6 220.8 504.8 221.2 504.6 221.8 503.7 222.5 501.7 222.4 501.0 221.7 499.8 222.0 499.5 222.8 497.9 222.7 497.7 223.3 496.6 223.4 496.4 223.9 495.5 225.2 494.7 225.7 494.8 226.7 494.0 227.6 494.3 228.1 492.6 228.8 492.7 231.2 493.3 231.6 492.7 232.1 493.0 232.8 492.3 233.4 492.2 233.8 491.8 234.6ZM488.1 241.5 489.4 241.3 489.7 240.8 489.5 239.7 490.2 239.8 490.7 240.2 491.6 240.8 492.9 240.3 493.8 240.2 494.4 241.0 494.6 241.8 494.3 242.3 494.9 243.2 495.1 244.6 494.5 244.6 492.7 245.5 492.9 246.0 494.1 247.4 493.4 248.0 493.4 249.0 491.2 249.1 490.4 249.0 488.6 248.9 489.1 247.1 487.5 246.5 487.3 245.7 487.3 244.8 487.2 243.6 487.8 243.3 488.1 242.6 488.3 241.8ZM480.3 254.1 480.8 252.5 480.8 250.9 480.0 249.5 478.0 248.6 477.7 247.9 479.3 247.4 480.1 247.6 480.5 246.2 481.7 246.7 482.0 246.5 483.2 245.6 483.5 244.7 484.1 244.5 484.5 245.0 485.6 245.9 486.2 246.1 487.5 246.5 489.1 247.1 488.6 248.9 488.0 249.2 487.3 250.4 487.9 250.9 488.1 251.9 487.8 252.7 488.7 253.2 488.5 253.6 488.3 253.7 487.8 254.3 487.1 254.5 486.6 254.2 486.1 254.2 485.2 254.1 484.6 255.0 484.7 255.4 483.4 255.2 482.5 254.9 481.5 254.9 480.7 254.5ZM489.5 255.4 490.2 254.6 490.3 255.9 490.0 256.6 489.6 256.2ZM474.0 262.1 473.5 260.0 474.2 256.9 473.7 254.6 474.8 253.7 476.8 253.9 478.5 254.0 480.3 254.1 480.7 254.5 481.5 254.9 482.5 254.9 483.4 255.2 484.7 255.4 484.8 255.5 483.8 256.6 483.0 257.0 482.7 257.5 481.9 258.4 481.6 259.1 482.1 259.9 481.5 260.4 481.3 261.4 480.0 262.5 478.0 262.5 477.2 263.2 477.0 263.4 476.3 262.8 475.7 261.9 474.9 262.1ZM607.6 321.9 608.5 324.2 608.7 326.5 610.1 327.3 610.1 327.9 610.5 329.7 610.9 332.2 611.4 332.6 613.1 333.9 613.5 334.9 614.9 336.7 615.0 337.9 616.4 339.6 617.0 339.7 617.0 342.8 617.4 344.4 616.8 346.7 616.4 348.8 615.8 349.7 615.3 351.0 614.4 353.6 614.2 355.5 612.4 356.0 611.0 357.5 609.3 356.5 608.5 357.2 606.8 356.6 605.8 356.1 605.2 354.7 604.8 353.2 603.7 353.1 604.1 352.2 603.6 351.4 602.7 352.6 603.2 351.1 603.4 349.3 602.7 350.7 601.9 352.1 601.1 351.7 600.3 349.8 599.8 348.7 598.3 348.6 597.6 348.0 595.7 348.2 593.0 349.0 591.3 349.8 589.4 351.0 587.7 351.0 587.3 351.6 585.9 352.4 584.2 352.1 583.4 351.6 583.3 350.5 583.9 350.2 584.0 348.6 583.3 346.7 583.0 344.6 582.6 343.0 582.0 341.7 581.9 341.2 582.1 339.7 582.4 335.8 582.8 336.7 583.4 335.6 584.8 334.3 586.5 333.9 587.7 333.4 589.1 332.3 589.7 331.1 590.3 329.0 590.9 330.3 591.3 328.8 592.1 327.9 593.0 326.3 593.8 325.7 594.9 327.3 595.7 327.2 596.2 327.2 596.6 325.4 596.8 324.7 597.3 324.0 597.9 323.9 598.8 323.7 598.9 322.7 598.3 322.4 599.6 323.3 601.0 323.8 601.9 323.5 602.6 323.8 602.3 325.2 601.8 326.0 601.4 327.2 602.6 328.4 603.6 329.4 604.7 330.2 606.1 330.4 606.7 327.9 606.8 326.0 607.0 324.3 607.2 322.3ZM609.5 359.5 611.1 360.0 612.7 359.7 612.7 361.1 612.3 362.6 611.4 363.1 610.7 363.0 610.0 361.4 609.5 360.1ZM491.6 208.6 495.1 208.4 497.8 208.9 498.7 209.8 500.9 210.4 498.2 211.4 496.9 212.5 494.7 211.8 493.8 210.6 491.6 209.8ZM497.8 208.0 501.3 207.6 505.7 208.1 503.1 209.1 498.2 208.9ZM500.4 210.5 503.1 210.9 501.7 211.6 500.4 211.4ZM484.0 258.9 484.7 258.4 484.9 259.0 484.5 259.3ZM483.0 259.6 483.3 259.5 483.2 259.8ZM596.8 322.8 597.9 322.8 597.4 323.4ZM602.3 325.8 602.7 326.0 602.5 326.4ZM602.4 353.2 603.7 353.4 603.2 353.7Z" fill="#fdbb6c"/>
<path d="M373.1 247.9 371.2 247.2 368.7 245.0 369.4 244.7 371.5 245.9 372.7 247.1ZM365.7 243.1 364.6 240.7 365.7 240.8 366.3 243.1ZM429.6 248.9 430.4 247.0 431.3 245.0 432.6 243.8 432.9 244.6 432.1 245.9 432.9 246.0 434.7 246.7 435.2 247.7 435.4 249.0 435.0 250.1 434.1 249.9 432.9 249.7 432.5 248.9ZM425.2 250.0 426.3 250.2 427.2 250.4 426.7 250.9 425.6 250.6ZM425.0 246.0 426.8 246.5 427.5 247.0 425.9 246.7ZM424.6 230.9 423.2 230.9 420.6 229.9 418.8 228.8 417.5 227.9 415.3 227.6 413.3 227.9 413.1 227.1 416.2 226.6 417.1 225.4 417.7 223.5 416.2 222.7 414.4 222.0 414.0 221.0 412.2 220.8 409.6 220.8 406.9 220.8 404.3 220.3 403.0 219.5 402.5 218.3 403.4 216.8 406.0 216.0 407.1 216.5 407.4 218.3 409.1 217.3 410.5 216.2 413.1 216.4 414.9 217.3 416.6 218.7 418.8 219.3 421.0 220.2 422.8 221.7 422.4 222.9 425.5 224.2 427.7 224.9 426.8 226.3 425.5 227.1 423.7 225.8 421.9 225.2 422.8 226.4 424.6 227.7 425.0 229.2 423.7 229.3 421.5 228.7 423.7 230.3ZM378.7 222.0 382.2 222.7 386.6 222.4 389.3 222.0 392.4 221.3 392.8 220.5 389.7 219.5 388.8 217.3 386.6 216.7 384.0 217.3 381.4 216.7 377.8 217.5 376.9 218.8 379.6 219.2 377.8 220.0 382.2 220.4 378.7 220.9ZM371.2 218.0 373.1 219.4 375.6 218.9 377.4 217.7 379.6 216.7 380.0 215.8 377.8 215.4 374.7 215.2 372.1 215.5 372.5 216.4 370.9 217.0ZM391.9 217.3 393.3 218.5 395.0 219.0 396.5 218.3 396.3 216.7 395.0 215.8 393.3 216.0 391.9 216.5ZM397.4 218.0 399.4 218.3 402.3 217.0 402.1 215.9 399.4 215.5 397.7 216.0 397.4 217.0ZM394.1 221.9 395.9 222.7 397.7 222.3 397.7 221.3 395.9 220.9 394.6 221.3ZM405.2 226.8 406.5 225.8 407.8 226.7 409.6 227.3 411.1 228.6 409.1 228.8 408.1 230.1 406.5 229.4 405.2 228.8 406.0 228.1ZM408.7 229.7 410.0 229.8 411.3 230.4 409.6 230.6ZM411.1 230.3 412.0 230.7 411.7 231.3 411.1 231.1ZM413.5 222.9 415.3 223.3 415.3 224.3 413.7 224.2ZM400.8 214.9 403.4 215.2 407.8 215.2 411.3 215.0 411.8 214.0 410.5 213.0 406.9 212.9 403.0 212.6 400.8 212.5 397.2 212.3 396.8 213.6 399.9 213.8ZM403.4 212.8 407.8 212.6 411.3 213.0 413.5 212.0 415.8 210.1 417.5 208.9 421.9 207.4 425.5 206.4 427.7 205.4 424.6 204.6 420.2 204.4 413.1 204.5 406.9 205.4 402.5 206.4 405.2 207.6 406.9 208.9 405.2 210.1 404.3 210.5 402.5 211.6ZM399.0 209.1 401.6 210.4 404.3 210.0 404.7 208.9 402.5 207.5 399.9 206.6 397.2 207.6 398.1 208.5ZM378.7 213.9 381.4 214.9 384.9 215.2 388.4 214.7 388.8 213.5 386.6 212.5 384.0 213.0 381.4 212.3 378.7 213.0ZM390.2 214.1 393.7 214.5 395.9 214.0 395.5 212.6 392.8 212.4 390.6 212.9ZM396.8 214.5 399.0 215.0 399.4 214.1 397.7 213.8ZM373.4 213.0 376.9 213.4 380.0 212.6 379.6 211.4 376.9 211.5 374.3 212.1ZM390.2 210.4 393.7 211.0 396.3 210.8 397.2 209.8 394.6 209.0 391.1 209.3ZM382.2 211.4 384.9 211.5 385.8 210.5 383.1 210.0 381.4 210.5ZM410.5 216.2 413.1 216.3 414.9 217.2 412.2 217.4Z" fill="#fdbb6c" stroke="#fdbb6c" stroke-width="0.7" stroke-linejoin="round"/>
<path d="M476.5 240.8 476.5 241.7 476.3 243.1 474.6 243.6 473.3 244.0 472.7 243.2 473.4 242.6 473.2 242.7 474.0 241.9 472.9 241.6 473.0 240.8 473.1 240.5 474.3 240.5 474.2 240.0 474.6 239.4 475.4 239.1 475.5 239.5 474.7 240.2 475.3 240.7 476.1 240.8ZM505.7 232.7 503.9 233.1 502.2 233.6 501.3 232.8 500.7 232.1 500.9 230.2 500.9 229.4 502.2 228.3 504.3 227.1 503.2 226.1 502.8 225.3 503.0 223.9 502.5 223.4 501.0 221.7 501.7 222.4 503.7 222.5 504.6 221.8 504.8 221.2 506.6 220.8 507.5 222.0 507.0 223.0 508.4 223.7 507.6 224.7 508.4 226.2 508.1 227.3 508.8 228.1 508.4 228.7 509.7 229.7 507.5 231.8 506.4 232.6ZM484.9 244.1 485.4 243.3 486.0 242.1 488.1 241.5 488.3 241.8 488.1 242.6 487.8 243.3 487.2 243.6 487.3 244.8 486.9 244.8 486.3 244.1 485.6 244.1ZM589.1 276.8 589.5 277.2 589.2 278.4 588.5 281.1 587.8 279.7 588.3 278.1 588.6 277.2Z" fill="#00007f"/>
<path d="M489.5 239.7 489.0 239.0 489.0 237.6 489.5 237.0 491.2 236.1 491.2 237.7 491.5 237.8 491.0 238.5 490.6 239.3 490.2 239.8ZM491.6 238.7 492.7 238.2 493.0 238.8 492.7 239.6 491.8 239.3ZM490.5 239.0 491.4 239.0 491.3 239.6 490.7 239.5Z" fill="#e31a1c"/>
<path d="M357.5 221.2 357.5 232.9 359.1 233.2 360.5 234.3 360.6 234.7 362.4 233.6 364.2 235.3 365.6 237.5 367.2 238.5 367.1 239.6 366.6 240.0 365.0 240.0 364.2 239.0 363.1 238.1 361.9 236.5 361.5 235.8 360.3 235.1 358.7 233.9 357.1 233.3 354.9 233.3 352.7 232.6 351.4 233.3 350.0 233.7 348.0 234.3 348.4 232.4 349.6 231.8 347.4 233.1 346.1 234.6 344.3 236.3 342.1 238.1 339.5 239.5 336.5 240.2 338.1 238.8 340.3 238.3 342.1 236.8 343.0 234.9 341.8 235.2 340.3 234.8 338.9 235.0 339.0 233.3 336.8 232.7 336.1 232.1 335.4 231.3 336.5 230.1 336.5 229.3 339.9 228.9 340.1 227.3 338.6 227.8 336.0 227.7 333.6 226.3 335.0 225.6 337.7 225.1 339.5 225.4 337.5 224.4 334.8 222.9 335.3 222.2 338.1 220.9 339.1 220.4 343.9 219.0 347.8 219.8 350.9 220.3 354.0 220.8ZM345.5 236.5 347.0 235.8 347.7 236.5 346.7 237.1 345.8 237.2ZM371.9 247.9 373.4 248.1 373.6 247.1 398.0 247.1 398.0 246.6 398.5 247.5 399.9 247.6 400.8 248.0 401.8 248.1 402.9 248.4 403.9 248.0 407.0 249.7 407.3 250.2 408.3 250.7 408.2 251.1 409.1 251.7 409.5 253.9 409.2 254.6 408.6 255.6 409.1 256.2 412.2 254.7 412.2 254.1 414.5 253.2 416.0 252.1 418.8 252.1 419.9 251.1 420.2 250.1 420.9 249.0 421.7 249.2 422.1 249.5 422.1 251.2 422.8 252.4 421.0 253.4 420.0 253.9 419.5 254.9 419.6 255.1 419.3 255.5 420.2 256.1 418.9 256.5 418.4 257.1 416.9 257.5 416.6 257.8 415.8 259.7 415.3 259.0 415.7 260.3 414.9 262.1 415.3 264.3 414.4 265.1 413.1 266.1 411.4 267.5 410.5 268.4 410.1 270.4 410.8 272.8 411.3 275.0 411.2 276.2 410.5 277.0 409.8 275.8 409.0 273.7 408.9 272.2 407.8 270.8 406.9 271.3 406.3 270.7 405.0 270.5 404.3 270.4 403.0 270.7 403.2 272.2 402.1 272.0 400.9 271.5 399.2 271.3 398.3 271.8 396.9 272.9 396.1 273.9 396.2 276.0 394.5 275.4 394.1 274.0 393.3 272.5 392.9 271.7 391.7 271.1 390.9 272.2 389.8 271.5 389.4 270.2 388.0 268.7 386.5 268.7 386.5 269.2 383.9 269.2 380.6 267.8 378.6 267.7 378.4 267.2 377.5 266.2 375.6 265.3 374.4 262.6 373.9 261.1 372.8 259.7 372.2 257.9 372.4 256.1 372.0 254.8 372.5 252.6 372.5 250.5 372.4 249.7ZM344.1 283.7 344.7 283.1 345.4 283.9 344.7 284.9 344.2 284.4ZM343.6 282.2 344.3 282.3 344.0 282.8 343.7 282.7ZM342.2 281.4 342.9 281.6 342.6 281.9ZM340.9 280.7 341.5 280.6 341.3 281.2ZM476.9 245.8 478.3 245.4 478.7 245.6 479.7 245.2 481.2 245.0 482.1 244.9 482.7 244.7 483.1 244.4 483.2 244.1 482.5 244.0 483.0 243.4 483.4 242.7 483.0 242.2 482.2 242.3 482.2 241.8 482.0 241.3 481.8 240.7 481.4 240.2 480.9 240.0 480.7 239.6 480.1 238.6 479.1 238.4 479.6 238.0 480.1 236.9 480.3 236.5 480.1 236.2 478.9 236.2 478.2 236.5 478.5 236.0 479.2 235.3 479.3 235.0 477.5 235.1 477.2 235.8 476.8 236.3 476.9 236.7 476.8 237.1 476.4 237.5 477.0 237.8 476.8 239.2 477.0 239.0 477.6 238.5 477.8 239.0 477.5 239.6 477.6 240.0 478.7 239.7 479.3 239.6 478.7 240.2 479.1 240.7 479.4 240.7 479.2 241.1 479.3 241.6 478.5 241.7 477.8 241.7 477.7 242.3 478.3 242.5 478.3 242.8 477.8 243.2 477.2 243.5 477.4 243.8 478.1 243.9 479.1 244.0 479.5 243.8 479.3 244.3 477.9 244.6 477.5 245.2ZM476.6 239.3 475.5 239.5 474.7 240.2 475.3 240.7 476.1 240.8 476.5 240.8 477.0 240.3 476.9 239.8ZM475.5 235.6 476.4 235.2 476.3 236.0 475.5 236.3ZM476.1 236.3 476.6 236.5 476.8 237.0 476.2 237.0ZM479.0 234.4 479.6 234.3 479.4 234.8ZM480.6 232.6 481.1 232.4 480.8 233.4 480.5 233.3Z" fill="#67000d"/>
<g fill="#67000d"><ellipse cx="335.0" cy="241.1" rx="1.2" ry="0.8"/><ellipse cx="333.5" cy="241.7" rx="1.0" ry="0.7"/><ellipse cx="332.1" cy="242.3" rx="0.7" ry="0.5"/><ellipse cx="330.6" cy="242.8" rx="0.7" ry="0.5"/><ellipse cx="328.9" cy="243.1" rx="0.8" ry="0.5"/><ellipse cx="327.5" cy="243.2" rx="0.7" ry="0.5"/><ellipse cx="326.1" cy="243.6" rx="0.8" ry="0.5"/><ellipse cx="634.5" cy="242.2" rx="0.8" ry="0.5"/><ellipse cx="638.5" cy="243.3" rx="0.7" ry="0.5"/><ellipse cx="640.0" cy="244.1" rx="0.5" ry="0.4"/><ellipse cx="340.5" cy="239.5" rx="0.5" ry="0.4"/><ellipse cx="331.7" cy="236.8" rx="0.4" ry="0.3"/><ellipse cx="330.6" cy="229.1" rx="1.2" ry="0.8"/><ellipse cx="335.2" cy="233.2" rx="1.0" ry="0.7"/></g>
<path d="M307.2 193.2V426.8" fill="none" stroke="#adadad" stroke-width="1.4"/>
<path d="M306.5 426.4H666.2" fill="none" stroke="#6c6c6c" stroke-width="1.1"/>
<path d="M303.8 245.9H306.6M303.8 308.5H306.6M303.8 371.2H306.6M393.7 427V429.3M481.9 427V429.3M570.1 427V429.3M658.3 427V429.3" stroke="#b0b0b0" stroke-width="0.8" fill="none"/>
<g font-size="7.7" fill="#222" text-anchor="end"><text x="300.5" y="248.6">50</text><text x="300.5" y="311.4">0</text><text x="300.5" y="374">−50</text></g>
<g font-size="7.7" fill="#222" text-anchor="middle"><text x="394" y="438.6" textLength="16.4">−100</text><text x="482" y="438.6">0</text><text x="570.1" y="438.6">100</text><text x="658.3" y="438.6">200</text></g>
<text font-size="9.05" fill="#222" text-anchor="middle" transform="translate(279.9 309.7) rotate(-90)" textLength="32.8">Latitude</text>
<text font-size="9.05" fill="#222" text-anchor="middle" x="486.3" y="451.1" textLength="40.6">Longitude</text>
<g>
<rect x="344.2" y="316.1" width="7.9" height="7.0" fill="#d6e8f7"/>
<rect x="344.2" y="324.9" width="7.9" height="7.0" fill="#00007f"/>
<rect x="344.2" y="333.9" width="7.9" height="7.0" fill="#fdbb6c"/>
<rect x="344.2" y="342.8" width="7.9" height="7.0" fill="#e31a1c"/>
<rect x="344.2" y="351.7" width="7.9" height="7.0" fill="#67000d"/>
<rect x="344.2" y="360.6" width="7.9" height="6.8" fill="#f6f6f6"/>
</g>
<g font-size="7.25" fill="#222"><text x="355.5" y="321.9" textLength="13.9">1–10</text><text x="355.5" y="330.8" textLength="21.3">11–100</text><text x="355.5" y="339.8" textLength="28.1">101–500</text><text x="355.5" y="348.9" textLength="35">501–1,000</text><text x="355.5" y="357.7" textLength="22.2">&gt;1,000</text><text x="355.5" y="366.2">0</text></g>
</g>
</svg>
</body></html>
